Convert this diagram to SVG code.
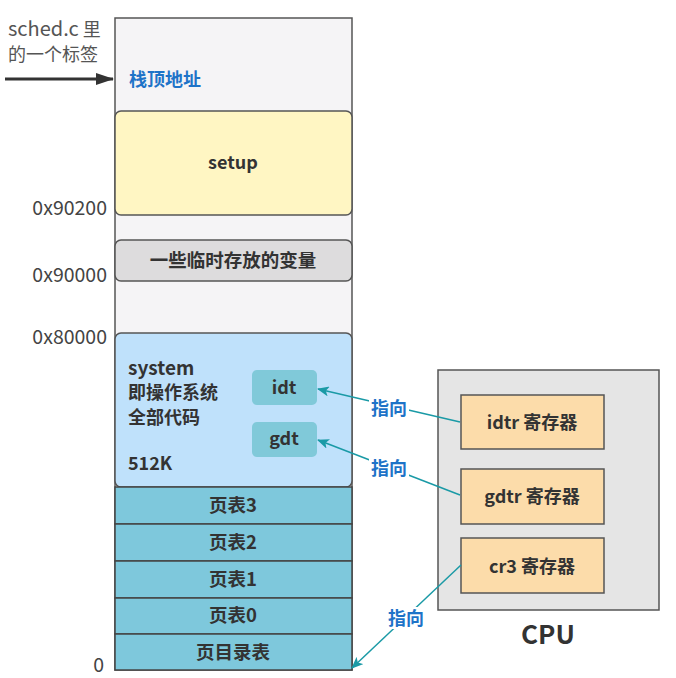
<svg xmlns="http://www.w3.org/2000/svg" width="676" height="678" viewBox="0 0 676 678">
<style>
text{font-family:"Noto Sans CJK SC","Liberation Sans",sans-serif;fill:#333;}
.b{font-weight:bold;}
.c{text-anchor:middle;}
.r{text-anchor:end;}
.lbl{font-size:18px;fill:#555;}
.addr{font-size:19.5px;fill:#444;}
.blue{fill:#1e73c8;font-weight:bold;}
.box{stroke:#555;stroke-width:1.5;}
.pt{fill:#7ec8dc;stroke:#444;stroke-width:1.5;}
.reg{fill:#fcdcaa;stroke:#555;stroke-width:1.5;}
.conn{stroke:#1a9aa6;stroke-width:1.5;fill:none;marker-end:url(#ah);}
</style>
<defs>
<marker id="ah" viewBox="0 0 12 10" refX="11" refY="5" markerWidth="12" markerHeight="10" markerUnits="userSpaceOnUse" orient="auto">
<path d="M0,0 L12,5 L0,10 L3,5 Z" fill="#1a9aa6"/>
</marker>
<marker id="ahk" viewBox="0 0 18 12" refX="17" refY="6" markerWidth="18" markerHeight="12" markerUnits="userSpaceOnUse" orient="auto">
<path d="M0,0 L18,6 L0,12 Z" fill="#333"/>
</marker>
</defs>

<g id="stack-label">
<text class="lbl" x="8" y="36"><tspan font-size="20">sched.c</tspan> 里</text>
<text class="lbl" x="8" y="61">的一个标签</text>
</g>

<g id="column">
<rect class="box" x="115" y="18" width="237" height="652" fill="#f5f4f6"/>
<text class="blue" x="129" y="86" font-size="18">栈顶地址</text>
</g>

<g id="setup">
<rect class="box" x="115" y="111" width="237" height="104" rx="6" fill="#fff6c3"/>
<text class="b c" x="233" y="169" font-size="18">setup</text>
</g>

<g id="temp">
<rect class="box" x="115" y="240" width="237" height="41" rx="6" fill="#dddcdd"/>
<text class="b c" x="233" y="267" font-size="18.5">一些临时存放的变量</text>
</g>

<g id="system">
<rect class="box" x="115" y="333" width="237" height="154" rx="6" fill="#bfe1fb"/>
<text class="b" x="128" y="375" font-size="19">system</text>
<text class="b" x="128" y="399" font-size="18">即操作系统</text>
<text class="b" x="128" y="424" font-size="18">全部代码</text>
<text class="b" x="128" y="470" font-size="18">512K</text>
</g>

<g id="idt">
<rect x="252" y="370" width="65" height="35" rx="5" fill="#80c9d9"/>
<text class="b c" x="284" y="394" font-size="18">idt</text>
</g>

<g id="gdt">
<rect x="252" y="422" width="65" height="35" rx="5" fill="#80c9d9"/>
<text class="b c" x="284" y="445" font-size="18">gdt</text>
</g>

<g id="pt3">
<rect class="pt" x="115" y="487" width="237" height="37"/>
<text class="b c" x="233" y="512" font-size="18.5">页表3</text>
</g>
<g id="pt2">
<rect class="pt" x="115" y="524" width="237" height="37"/>
<text class="b c" x="233" y="549" font-size="18.5">页表2</text>
</g>
<g id="pt1">
<rect class="pt" x="115" y="561" width="237" height="37"/>
<text class="b c" x="233" y="586" font-size="18.5">页表1</text>
</g>
<g id="pt0">
<rect class="pt" x="115" y="598" width="237" height="36"/>
<text class="b c" x="233" y="622" font-size="18.5">页表0</text>
</g>
<g id="pdir">
<rect class="pt" x="115" y="634" width="237" height="36"/>
<text class="b c" x="233" y="659" font-size="18.5">页目录表</text>
</g>

<g id="addresses">
<text class="addr r" x="107" y="215">0x90200</text>
<text class="addr r" x="107" y="282">0x90000</text>
<text class="addr r" x="107" y="344">0x80000</text>
<text class="addr r" x="104" y="672">0</text>
</g>

<g id="cpu">
<rect x="438" y="370" width="221" height="240" fill="#e5e5e5" stroke="#555" stroke-width="1.5"/>
<text class="b c" x="548" y="644" font-size="26">CPU</text>
</g>

<g id="idtr">
<rect class="reg" x="461" y="395" width="143" height="54"/>
<text class="b c" x="532" y="429" font-size="18">idtr 寄存器</text>
</g>
<g id="gdtr">
<rect class="reg" x="461" y="469" width="143" height="55"/>
<text class="b c" x="532" y="503" font-size="18">gdtr 寄存器</text>
</g>
<g id="cr3">
<rect class="reg" x="461" y="538" width="143" height="55"/>
<text class="b c" x="532" y="573" font-size="18">cr3 寄存器</text>
</g>

<g id="connectors">
<line x1="5" y1="79" x2="113" y2="79" stroke="#333" stroke-width="3" marker-end="url(#ahk)"/>
<line class="conn" x1="460" y1="422" x2="318" y2="389"/>
<line class="conn" x1="460" y1="495" x2="318" y2="440"/>
<line class="conn" x1="461" y1="565" x2="352" y2="668"/>
<rect x="369" y="397" width="40" height="22" fill="#fff"/>
<text class="blue" x="389" y="415" font-size="18" text-anchor="middle">指向</text>
<rect x="369" y="457" width="40" height="22" fill="#fff"/>
<text class="blue" x="389" y="475" font-size="18" text-anchor="middle">指向</text>
<rect x="386" y="607" width="40" height="22" fill="#fff"/>
<text class="blue" x="406" y="625" font-size="18" text-anchor="middle">指向</text>
</g>
</svg>
